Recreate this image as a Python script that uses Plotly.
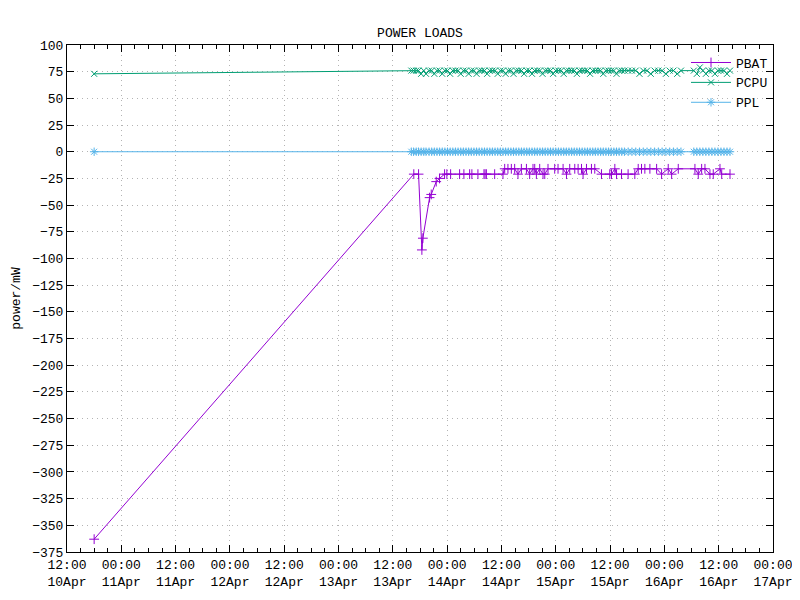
import plotly.graph_objects as go

# ---------------- data ----------------
PBAT_TIMES = [
    "2024-04-10 18:00",
    "2024-04-13 16:38", "2024-04-13 17:41", "2024-04-13 18:25", "2024-04-13 18:38",
    "2024-04-13 20:07", "2024-04-13 20:29", "2024-04-13 21:35", "2024-04-13 22:19",
    "2024-04-13 23:26", "2024-04-13 23:56",
    "2024-04-14 00:46", "2024-04-14 02:45", "2024-04-14 03:42", "2024-04-14 04:58",
    "2024-04-14 05:28", "2024-04-14 06:48", "2024-04-14 08:08", "2024-04-14 08:23",
    "2024-04-14 08:40", "2024-04-14 10:30", "2024-04-14 12:20", "2024-04-14 12:43",
    "2024-04-14 13:26", "2024-04-14 14:11", "2024-04-14 14:55", "2024-04-14 15:39",
    "2024-04-14 16:24", "2024-04-14 17:31", "2024-04-14 18:14", "2024-04-14 18:58",
    "2024-04-14 19:21", "2024-04-14 19:43", "2024-04-14 20:27", "2024-04-14 21:11",
    "2024-04-14 21:34", "2024-04-14 22:17", "2024-04-14 23:46",
    "2024-04-15 00:30", "2024-04-15 01:37", "2024-04-15 02:22", "2024-04-15 03:05",
    "2024-04-15 04:12", "2024-04-15 04:56", "2024-04-15 05:41", "2024-04-15 06:02",
    "2024-04-15 06:47", "2024-04-15 07:53", "2024-04-15 08:37", "2024-04-15 10:06",
    "2024-04-15 11:56", "2024-04-15 12:19", "2024-04-15 13:03", "2024-04-15 13:26",
    "2024-04-15 14:32", "2024-04-15 15:59", "2024-04-15 17:28", "2024-04-15 18:13",
    "2024-04-15 18:57", "2024-04-15 19:41", "2024-04-15 20:48", "2024-04-15 22:17",
    "2024-04-15 23:23",
    "2024-04-16 00:51", "2024-04-16 01:36", "2024-04-16 03:04", "2024-04-16 06:45",
    "2024-04-16 07:29", "2024-04-16 08:14", "2024-04-16 08:58", "2024-04-16 10:04",
    "2024-04-16 10:48", "2024-04-16 12:17", "2024-04-16 12:40", "2024-04-16 14:30",
]
PBAT_VALUES = [
    -363,
    -21, -21, -92, -81,
    -43, -40, -28, -25,
    -21, -21,
    -21, -21, -21, -21,
    -21, -21, -21, -21,
    -21, -21, -21, -16,
    -16, -16, -16, -21,
    -16, -16, -21, -16,
    -16, -21, -16, -21,
    -21, -16, -16,
    -16, -16, -21, -16,
    -16, -16, -16, -21,
    -16, -16, -16, -21,
    -21, -21, -16, -21,
    -21, -21, -21, -16,
    -16, -16, -16, -16,
    -21,
    -16, -21, -16, -16,
    -21, -16, -16, -21,
    -21, -16, -21, -21,
]

CPU_TIMES_10 = ["2024-04-10 18:00"]
CPU_VALUES_10 = [73]
CPU_TIMES_13 = ["16:05", "16:35", "17:10", "17:40", "18:15", "18:50", "19:20", "20:00",
                "20:35", "21:10", "21:45", "22:20", "22:55", "23:30"]
CPU_VALUES_13 = [76, 76, 76, 76, 73, 76, 73, 76, 76, 73, 76, 76, 73, 76]
CPU_TIMES_14 = ["00:05", "00:40", "01:15", "01:50", "02:25", "03:00", "03:35", "04:10", "04:45", "05:20",
                "05:55", "06:30", "07:05", "07:40", "08:15", "08:50", "09:25", "10:00", "10:35", "11:10",
                "11:45", "12:20", "12:55", "13:30", "14:05", "14:40", "15:15", "15:50", "16:25", "17:00",
                "17:35", "18:10", "18:45", "19:20", "19:55", "20:30", "21:05", "21:40", "22:15", "22:50",
                "23:25"]
CPU_VALUES_14 = [76, 73, 76, 76, 76, 73, 76, 76, 73, 76,
                 76, 73, 76, 76, 76, 73, 76, 76, 76, 73,
                 76, 76, 73, 76, 76, 73, 76, 76, 76, 73,
                 76, 76, 73, 76, 76, 76, 73, 76, 76, 76,
                 73]
CPU_TIMES_15 = ["00:00", "00:35", "01:10", "01:45", "02:20", "02:55", "03:30", "04:05", "04:40", "05:15",
                "05:50", "06:25", "07:00", "07:35", "08:10", "08:45", "09:20", "09:55", "10:30", "11:05",
                "11:40", "12:15", "12:50", "13:25", "14:00", "14:35", "15:10", "16:00", "16:50", "17:40",
                "18:30", "19:20", "20:10", "21:00", "21:50", "22:40", "23:30"]
CPU_VALUES_15 = [76, 76, 76, 73, 76, 76, 76, 76, 73, 76,
                 76, 76, 76, 73, 76, 76, 76, 76, 73, 76,
                 76, 76, 76, 73, 76, 76, 76, 76, 76, 76,
                 73, 76, 76, 73, 76, 76, 76]
CPU_TIMES_16 = ["00:20", "01:10", "02:00", "02:50", "03:40", "06:30", "07:10", "07:50", "08:30", "09:10",
                "09:50", "10:30", "11:10", "11:50", "12:30", "13:10", "13:50", "14:30"]
CPU_VALUES_16 = [73, 76, 76, 73, 76, 76, 73, 79, 76, 73,
                 76, 76, 73, 76, 76, 76, 73, 76]

PPL_VALUES_10 = [0]
PPL_VALUES_13 = [0, 0, 0, 0, 0, 0, 0, 0, 0, 0, 0, 0, 0, 0]
PPL_VALUES_14 = [0, 0, 0, 0, 0, 0, 0, 0, 0, 0,
                 0, 0, 0, 0, 0, 0, 0, 0, 0, 0,
                 0, 0, 0, 0, 0, 0, 0, 0, 0, 0,
                 0, 0, 0, 0, 0, 0, 0, 0, 0, 0,
                 0]
PPL_VALUES_15 = [0, 0, 0, 0, 0, 0, 0, 0, 0, 0,
                 0, 0, 0, 0, 0, 0, 0, 0, 0, 0,
                 0, 0, 0, 0, 0, 0, 0, 0, 0, 0,
                 0, 0, 0, 0, 0, 0, 0]
PPL_VALUES_16 = [0, 0, 0, 0, 0, 0, 0, 0, 0, 0,
                 0, 0, 0, 0, 0, 0, 0, 0]

X_RANGE = ["2024-04-10 12:00", "2024-04-17 00:00"]
Y_RANGE = [-375, 100]

# ---------------- assemble ----------------
assert len(PBAT_TIMES) == len(PBAT_VALUES)

cpu_times = (CPU_TIMES_10
             + ["2024-04-13 " + t for t in CPU_TIMES_13]
             + ["2024-04-14 " + t for t in CPU_TIMES_14]
             + ["2024-04-15 " + t for t in CPU_TIMES_15]
             + ["2024-04-16 " + t for t in CPU_TIMES_16])
cpu_values = CPU_VALUES_10 + CPU_VALUES_13 + CPU_VALUES_14 + CPU_VALUES_15 + CPU_VALUES_16
ppl_values = PPL_VALUES_10 + PPL_VALUES_13 + PPL_VALUES_14 + PPL_VALUES_15 + PPL_VALUES_16
assert len(cpu_times) == len(cpu_values) == len(ppl_values)

FONT = "Liberation Mono"
C_PBAT = "#9400d3"
C_PCPU = "#009e73"
C_PPL = "#56b4e9"
GRID = "#b4b4b4"

fig = go.Figure()
fig.add_trace(go.Scatter(
    x=PBAT_TIMES, y=PBAT_VALUES, name="PBAT", mode="lines+markers",
    line=dict(color=C_PBAT, width=1),
    marker=dict(symbol="cross-thin", size=7, color=C_PBAT, line=dict(color=C_PBAT, width=1)),
))
fig.add_trace(go.Scatter(
    x=cpu_times, y=cpu_values, name="PCPU", mode="lines+markers",
    line=dict(color=C_PCPU, width=1),
    marker=dict(symbol="x-thin", size=6, color=C_PCPU, line=dict(color=C_PCPU, width=1)),
))
fig.add_trace(go.Scatter(
    x=cpu_times, y=ppl_values, name="PPL", mode="lines+markers",
    line=dict(color=C_PPL, width=1),
    marker=dict(symbol="asterisk", size=7, color=C_PPL, line=dict(color=C_PPL, width=1)),
))

# the page body has an 8px default margin; margins below compensate so the
# plotting area lands at x 67..773, y 45..552 in the 800x600 window
fig.update_layout(
    width=800, height=600,
    margin=dict(l=59, r=35, t=37, b=56),
    paper_bgcolor="white", plot_bgcolor="white",
    font=dict(family=FONT, size=12, color="#000"),
    title=dict(text="POWER LOADS", x=0.515, xanchor="center", y=0.96, yanchor="middle",
               font=dict(family=FONT, size=13)),
    showlegend=True,
    legend=dict(x=1, xanchor="right", y=0.995, yanchor="top", bgcolor="rgba(0,0,0,0)",
                font=dict(family=FONT, size=13), tracegroupgap=0, itemwidth=40),
)

fig.update_xaxes(
    type="date", range=X_RANGE, automargin=False,
    tick0="2024-04-10 12:00", dtick=12 * 3600 * 1000,
    tickformat="%H:%M<br>%d%b",
    ticks="inside", ticklen=7, tickcolor="#000",
    showline=True, linecolor="#000", linewidth=1, mirror="ticks",
    showgrid=True, gridcolor=GRID, griddash="1px,4px", gridwidth=1,
    zeroline=False,
    minor=dict(dtick=3 * 3600 * 1000, tick0="2024-04-10 12:00", ticks="inside",
               ticklen=4, tickcolor="#000", showgrid=False),
    tickfont=dict(family=FONT, size=13),
)
fig.update_yaxes(
    range=Y_RANGE, dtick=25, tick0=0, automargin=False,
    ticks="inside", ticklen=7, tickcolor="#000",
    showline=True, linecolor="#000", linewidth=1, mirror="ticks",
    showgrid=True, gridcolor=GRID, griddash="1px,4px", gridwidth=1,
    zeroline=False,
    title=dict(text="power/mW", font=dict(family=FONT, size=13), standoff=8),
    tickfont=dict(family=FONT, size=13),
)

fig.write_html("out.html")
